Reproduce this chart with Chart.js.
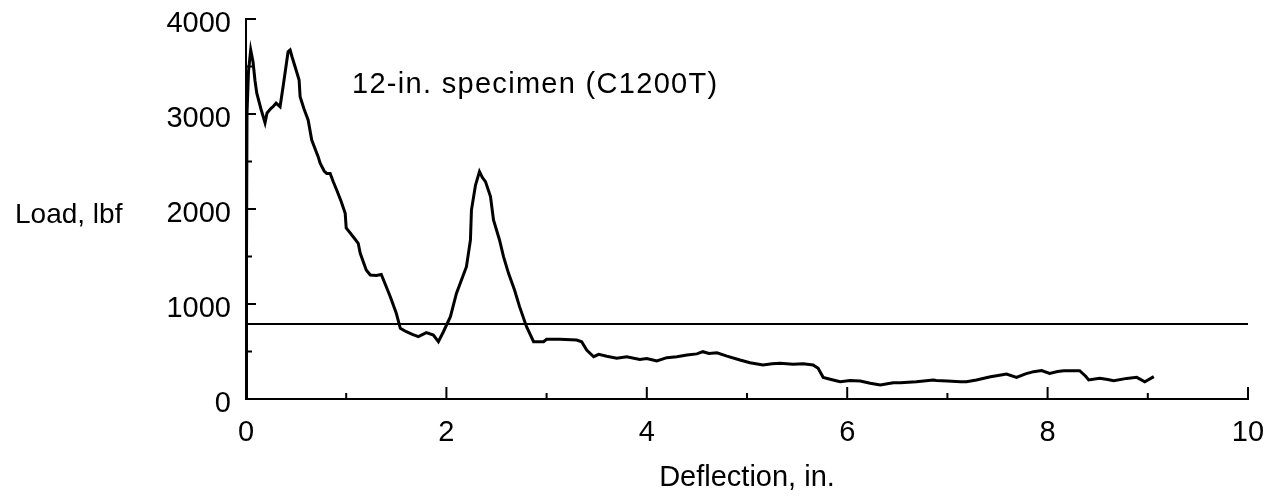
<!DOCTYPE html>
<html>
<head>
<meta charset="utf-8">
<script src="https://cdn.jsdelivr.net/npm/chart.js@4"></script>
<style>
  body { margin: 0; background: #fff; }
  canvas { display: block; }
</style>
</head>
<body>
<canvas id="chart" width="1280" height="497"></canvas>
<script>
// load-deflection trace
const deflection = [0.00, 0.005, 0.01, 0.025, 0.047, 0.07, 0.09, 0.107, 0.15, 0.19, 0.21, 0.25, 0.27, 0.30, 0.34, 0.37, 0.42, 0.44, 0.46, 0.49,
  0.53, 0.54, 0.58, 0.62, 0.656, 0.72, 0.74, 0.78, 0.805, 0.84, 0.87, 0.905, 0.95, 0.99, 1.0, 1.07, 1.12, 1.14, 1.2, 1.24,
  1.30, 1.35, 1.40, 1.44, 1.50, 1.54, 1.60, 1.66, 1.72, 1.80, 1.87, 1.92, 1.97, 2.04, 2.10, 2.20, 2.24, 2.25, 2.29, 2.33,
  2.36, 2.39, 2.44, 2.47, 2.53, 2.57, 2.62, 2.68, 2.73, 2.80, 2.87, 2.97, 3.0, 3.13, 3.30, 3.35, 3.40, 3.47, 3.52, 3.60,
  3.70, 3.80, 3.93, 4.00, 4.10, 4.20, 4.30, 4.40, 4.50, 4.56, 4.62, 4.70, 4.80, 4.93, 5.03, 5.16, 5.25, 5.33, 5.46, 5.56,
  5.66, 5.71, 5.76, 5.86, 5.93, 6.03, 6.13, 6.23, 6.33, 6.46, 6.53, 6.69, 6.86, 6.89, 7.00, 7.13, 7.19, 7.29, 7.43, 7.52,
  7.59, 7.69, 7.78, 7.86, 7.94, 8.02, 8.10, 8.16, 8.32, 8.38, 8.41, 8.52, 8.60, 8.66, 8.79, 8.89, 8.97, 9.06];
const load = [0, 1500, 3000, 3450, 3674, 3550, 3350, 3221, 3050, 2908, 3010, 3060, 3077, 3115, 3077, 3287, 3656, 3674, 3600, 3498,
  3358, 3182, 3050, 2937, 2726, 2551, 2481, 2400, 2375, 2375, 2290, 2200, 2080, 1955, 1800, 1708, 1639, 1533, 1358, 1305,
  1300, 1310, 1182, 1077, 902, 744, 708, 680, 656, 698, 673, 603, 708, 866, 1112, 1393, 1674, 1989, 2250, 2393,
  2330, 2288, 2130, 1884, 1674, 1498, 1323, 1147, 972, 761, 603, 603, 628, 628, 621, 603, 516, 445, 470, 450,
  428, 445, 417, 425, 400, 435, 445, 463, 475, 498, 480, 487, 452, 410, 382, 358, 370, 375, 365, 370,
  358, 323, 228, 200, 182, 195, 189, 165, 147, 172, 172, 182, 200, 195, 190, 182, 182, 200, 235, 250,
  263, 228, 265, 288, 300, 270, 290, 298, 298, 240, 200, 217, 205, 193, 217, 228, 182, 235];

// horizontal reference line
const refX = [0, 10];
const refY = [790, 790];

const xTicks = [0, 2, 4, 6, 8, 10];
const yTicks = [0, 1000, 2000, 3000, 4000];

const FONT = "'Liberation Sans', Arial, Helvetica, sans-serif";

const toPoints = (xs, ys) => xs.map((x, i) => ({ x: x, y: ys[i] }));

// inward tick marks + free text labels
const extras = {
  id: "extras",
  afterDatasetsDraw(chart) {
    const ctx = chart.ctx;
    const xs = chart.scales.x, ys = chart.scales.y;
    const x0 = xs.getPixelForValue(0), y0 = ys.getPixelForValue(0);
    ctx.save();
    ctx.strokeStyle = "#000";
    ctx.lineWidth = 2;
    ctx.beginPath();
    for (let v = 0; v <= 10; v++) {
      const px = xs.getPixelForValue(v);
      const len = v % 2 === 0 ? 12 : 6;
      ctx.moveTo(px, y0);
      ctx.lineTo(px, y0 - len);
    }
    for (let v = 0; v <= 4000; v += 500) {
      const py = ys.getPixelForValue(v);
      const len = v % 1000 === 0 ? 10 : 6;
      ctx.moveTo(x0, py);
      ctx.lineTo(x0 + len, py);
    }
    ctx.stroke();

    ctx.fillStyle = "#000";
    ctx.textBaseline = "alphabetic";
    ctx.textAlign = "left";
    ctx.font = "28px " + FONT;
    ctx.fillText("Load, lbf", 15, 223);
    ctx.font = "29px " + FONT;
    ctx.letterSpacing = "1.3px";
    ctx.fillText("12-in. specimen (C1200T)", 352, 93);
    ctx.restore();
  }
};

new Chart(document.getElementById("chart"), {
  type: "scatter",
  data: {
    datasets: [
      {
        data: toPoints(deflection, load),
        showLine: true,
        borderColor: "#000",
        borderWidth: 3,
        pointRadius: 0,
        tension: 0
      },
      {
        data: toPoints(refX, refY),
        showLine: true,
        borderColor: "#000",
        borderWidth: 2,
        pointRadius: 0
      }
    ]
  },
  options: {
    responsive: false,
    animation: false,
    layout: { padding: { left: 0, right: 32, top: 19, bottom: 0 } },
    plugins: { legend: { display: false }, tooltip: { enabled: false } },
    scales: {
      x: {
        type: "linear",
        min: 0,
        max: 10,
        afterBuildTicks: s => { s.ticks = xTicks.map(v => ({ value: v })); },
        afterFit: s => { s.height = 98; s.paddingLeft = 0; s.paddingRight = 0; },
        grid: { display: false, drawTicks: false },
        border: { display: true, color: "#000", width: 2 },
        ticks: { color: "#000", padding: 17, maxRotation: 0, font: { family: FONT, size: 29 } },
        title: {
          display: true,
          text: "Deflection, in.",
          color: "#000",
          font: { family: FONT, size: 29 },
          padding: { top: 0, bottom: 2 }
        }
      },
      y: {
        type: "linear",
        min: 0,
        max: 4000,
        afterBuildTicks: s => { s.ticks = yTicks.map(v => ({ value: v })); },
        afterFit: s => { s.width = 246; s.paddingTop = 0; s.paddingBottom = 0; },
        grid: { display: false, drawTicks: false },
        border: { display: true, color: "#000", width: 2 },
        ticks: {
          color: "#000",
          padding: 15,
          labelOffset: 5,
          font: { family: FONT, size: 29 },
          callback: v => String(v)
        }
      }
    }
  },
  plugins: [extras]
});
</script>
</body>
</html>
